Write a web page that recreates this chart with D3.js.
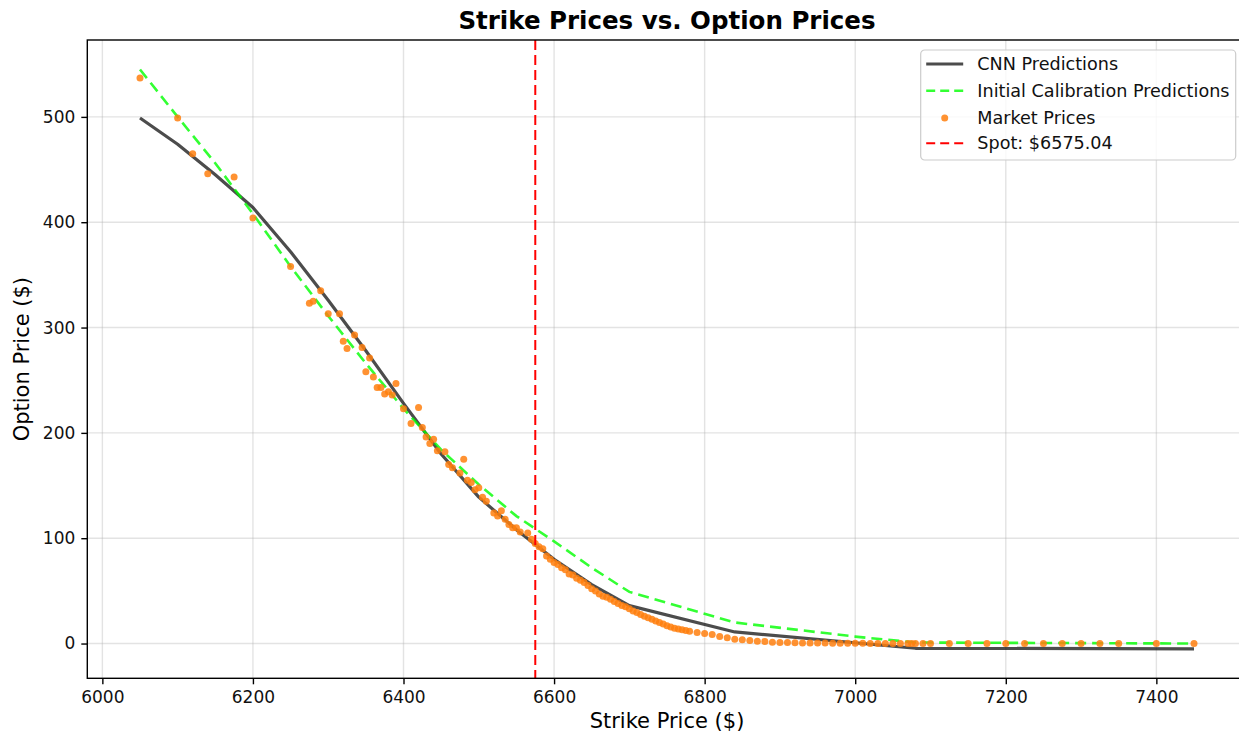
<!DOCTYPE html>
<html>
  <head>
    <meta charset="UTF-8" />
    <title>Strike Prices vs. Option Prices</title>
    <style>
      body { margin: 0; background: #fff; }
      svg text { font-family: "DejaVu Sans", sans-serif; }
    </style>
  </head>
  <body>
    <svg id="chart"></svg>
    <script src="https://d3js.org/d3.v7.min.js"></script>
    <script>
      // chart data
      var cnnStrikes = [6050, 6100, 6150, 6200, 6250, 6300, 6350, 6400, 6450, 6500, 6550, 6600, 6650, 6700, 6840, 7080, 7450];
      var cnnPrices = [499, 474, 445, 414, 372, 326, 278, 228, 180, 139, 108, 80, 56, 36, 11, -4.5, -5];

      var initStrikes = [6050, 6100, 6150, 6200, 6250, 6300, 6350, 6400, 6450, 6500, 6550, 6600, 6650, 6700, 6840, 7000, 7080, 7450];
      var initPrices = [545, 500, 456, 408, 358, 311, 266, 223, 184, 151, 121, 97, 72, 49, 20, 6.6, 1, 0];

      var marketStrikes = [
        6050, 6100, 6120, 6140, 6175, 6200, 6250, 6275, 6280, 6290,
        6300, 6315, 6320, 6325, 6335, 6345, 6350, 6355, 6360, 6365,
        6370, 6375, 6380, 6385, 6390, 6400, 6410, 6420, 6425, 6430,
        6435, 6440, 6445, 6455, 6460, 6465, 6475, 6480, 6485, 6490,
        6495, 6500, 6505, 6510, 6520, 6525, 6530, 6535, 6540, 6545,
        6550, 6555, 6565, 6570, 6575, 6580, 6585, 6590, 6595, 6600,
        6605, 6610, 6615, 6620, 6625, 6630, 6635, 6640, 6645, 6650,
        6655, 6660, 6665, 6670, 6675, 6680, 6685, 6690, 6695, 6700,
        6705, 6710, 6715, 6720, 6725, 6730, 6735, 6740, 6745, 6750,
        6755, 6760, 6765, 6770, 6775, 6780, 6790, 6800, 6810, 6820,
        6830, 6840, 6850, 6860, 6870, 6880, 6890, 6900, 6910, 6920,
        6930, 6940, 6950, 6960, 6970, 6980, 6990, 7000, 7010, 7020,
        7030, 7040, 7050, 7060, 7070, 7075, 7080, 7090, 7100, 7125,
        7150, 7175, 7200, 7225, 7250, 7275, 7300, 7325, 7350, 7400,
        7450
      ];
      var marketPrices = [
        537, 499, 465, 446, 443, 404, 358, 323, 325, 335,
        313, 313, 287, 280, 293, 281, 258, 271, 253, 243,
        243, 237, 239, 236, 247, 223, 209, 224, 205, 196,
        190, 194, 183, 182, 170, 167, 162, 175, 155, 153,
        146, 148, 139, 135, 124, 121, 126, 118, 113, 110,
        110, 106, 105, 99, 95, 92, 90, 83, 80, 77,
        75, 72, 70, 66, 65, 62, 60, 58, 55, 52,
        50, 47, 45, 44, 42, 40, 38, 36, 35, 33,
        31, 29.5, 27.5, 26, 24.5, 23, 21.5, 20, 18.5, 17,
        15.7, 14.5, 13.7, 13, 12.3, 11.7, 10.5, 9.5, 8.5, 6.6,
        5.4, 4.1, 3.5, 2.9, 2.2, 1.9, 1.3, 1.1, 0.9, 0.8,
        0.6, 0.5, 0.5, 0.4, 0.3, 0.3, 0.2, 0.2, 0.2, 0.1,
        0.1, 0.1, 0.1, 0.1, 0.1, 0.1, 0.1, 0.1, 0.1, 0.1,
        0.1, 0.1, 0.1, 0.1, 0.1, 0.1, 0.1, 0.1, 0.1, 0.1,
        0.1
      ];

      var spotPrice = 6575.04;
      var xTicks = [6000, 6200, 6400, 6600, 6800, 7000, 7200, 7400];
      var yTicks = [0, 100, 200, 300, 400, 500];
      var legendLabels = ["CNN Predictions", "Initial Calibration Predictions", "Market Prices", "Spot: $" + spotPrice.toFixed(2)];

      let width = 1239,
        height = 733;
      let plotLeft = 87.3,
        plotRight = 1246.7,
        plotTop = 40,
        plotBottom = 678.3;

      let svg = d3.select("#chart").attr("width", width).attr("height", height);

      var x = d3.scaleLinear().domain([5980, 7520]).range([plotLeft, plotRight]);
      var y = d3.scaleLinear().domain([-33, 573]).range([plotBottom, plotTop]);

      svg.append("defs").append("clipPath").attr("id", "plotclip")
        .append("rect")
        .attr("x", plotLeft).attr("y", plotTop)
        .attr("width", plotRight - plotLeft).attr("height", plotBottom - plotTop);

      // grid
      var grid = svg.append("g").attr("class", "grid");
      grid.selectAll("line.gx").data(xTicks).enter().append("line")
        .attr("x1", (d) => x(d)).attr("x2", (d) => x(d))
        .attr("y1", plotTop).attr("y2", plotBottom)
        .attr("stroke", "#b0b0b0").attr("stroke-opacity", 0.35).attr("stroke-width", 1.4);
      grid.selectAll("line.gy").data(yTicks).enter().append("line")
        .attr("y1", (d) => y(d)).attr("y2", (d) => y(d))
        .attr("x1", plotLeft).attr("x2", plotRight)
        .attr("stroke", "#b0b0b0").attr("stroke-opacity", 0.35).attr("stroke-width", 1.4);

      var plot = svg.append("g").attr("clip-path", "url(#plotclip)");

      var line = d3.line().x((d) => x(d[0])).y((d) => y(d[1]));

      // CNN predictions
      plot.append("path")
        .datum(d3.zip(cnnStrikes, cnnPrices))
        .attr("d", line)
        .attr("fill", "none")
        .attr("stroke", "black")
        .attr("stroke-opacity", 0.7)
        .attr("stroke-width", 3.2)
        .attr("stroke-linejoin", "round");

      // initial calibration
      plot.append("path")
        .datum(d3.zip(initStrikes, initPrices))
        .attr("d", line)
        .attr("fill", "none")
        .attr("stroke", "#00ff00")
        .attr("stroke-opacity", 0.8)
        .attr("stroke-width", 2.6)
        .attr("stroke-dasharray", "11,6");

      // market prices
      plot.selectAll("circle.mkt")
        .data(d3.zip(marketStrikes, marketPrices))
        .enter()
        .append("circle")
        .attr("class", "mkt")
        .attr("cx", (d) => x(d[0]))
        .attr("cy", (d) => y(d[1]))
        .attr("r", 3.5)
        .attr("fill", "#ff7f0e")
        .attr("fill-opacity", 0.85);

      // spot line
      plot.append("line")
        .attr("x1", x(spotPrice)).attr("x2", x(spotPrice))
        .attr("y1", plotTop).attr("y2", plotBottom)
        .attr("stroke", "red")
        .attr("stroke-width", 2)
        .attr("stroke-dasharray", "10,5");

      // axes
      var xAxis = d3.axisBottom(x).tickValues(xTicks).tickFormat(d3.format("d")).tickSize(6).tickPadding(6.3);
      var yAxis = d3.axisLeft(y).tickValues(yTicks).tickFormat(d3.format("d")).tickSize(6).tickPadding(6);

      var gx = svg.append("g").attr("transform", "translate(0," + plotBottom + ")").call(xAxis);
      var gy = svg.append("g").attr("transform", "translate(" + plotLeft + ",0)").call(yAxis);
      [gx, gy].forEach(function (g) {
        g.select(".domain").remove();
        g.selectAll(".tick line").attr("stroke", "black").attr("stroke-width", 1.4);
        g.selectAll(".tick text")
          .attr("fill", "#111")
          .style("font-size", "17px")
          .style("font-family", "DejaVu Sans");
      });

      // spines
      svg.append("rect")
        .attr("x", plotLeft).attr("y", plotTop)
        .attr("width", plotRight - plotLeft).attr("height", plotBottom - plotTop)
        .attr("fill", "none")
        .attr("stroke", "black")
        .attr("stroke-width", 1.4);

      // title and labels
      svg.append("text")
        .attr("x", (plotLeft + plotRight) / 2).attr("y", 29)
        .attr("text-anchor", "middle")
        .style("font-size", "24.5px").style("font-weight", "bold")
        .text("Strike Prices vs. Option Prices");

      svg.append("text")
        .attr("x", (plotLeft + plotRight) / 2).attr("y", 728)
        .attr("text-anchor", "middle")
        .style("font-size", "21px")
        .text("Strike Price ($)");

      svg.append("text")
        .attr("transform", "translate(29," + (plotTop + plotBottom) / 2 + ") rotate(-90)")
        .attr("text-anchor", "middle")
        .style("font-size", "21px")
        .text("Option Price ($)");

      // legend
      var legend = svg.append("g").attr("transform", "translate(920.7,50)");
      legend.append("rect")
        .attr("width", 315).attr("height", 110)
        .attr("rx", 4).attr("ry", 4)
        .attr("fill", "white").attr("fill-opacity", 0.8)
        .attr("stroke", "#cccccc").attr("stroke-width", 1.2);

      var rowY = [14, 40.7, 68, 93.3];
      legend.append("line")
        .attr("x1", 5.5).attr("x2", 42.5).attr("y1", rowY[0]).attr("y2", rowY[0])
        .attr("stroke", "black").attr("stroke-opacity", 0.7).attr("stroke-width", 3.2);
      legend.append("line")
        .attr("x1", 5.5).attr("x2", 42.5).attr("y1", rowY[1]).attr("y2", rowY[1])
        .attr("stroke", "#00ff00").attr("stroke-opacity", 0.8).attr("stroke-width", 2.6)
        .attr("stroke-dasharray", "9,5");
      legend.append("circle")
        .attr("cx", 24).attr("cy", rowY[2]).attr("r", 3.5)
        .attr("fill", "#ff7f0e").attr("fill-opacity", 0.85);
      legend.append("line")
        .attr("x1", 5.5).attr("x2", 42.5).attr("y1", rowY[3]).attr("y2", rowY[3])
        .attr("stroke", "red").attr("stroke-width", 2)
        .attr("stroke-dasharray", "9,5");

      legend.selectAll("text.lab").data(legendLabels).enter().append("text")
        .attr("class", "lab")
        .attr("x", 56.6)
        .attr("y", (d, i) => rowY[i] + 6)
        .style("font-size", "17.6px")
        .attr("fill", "#111")
        .text((d) => d);
    </script>
  </body>
</html>
